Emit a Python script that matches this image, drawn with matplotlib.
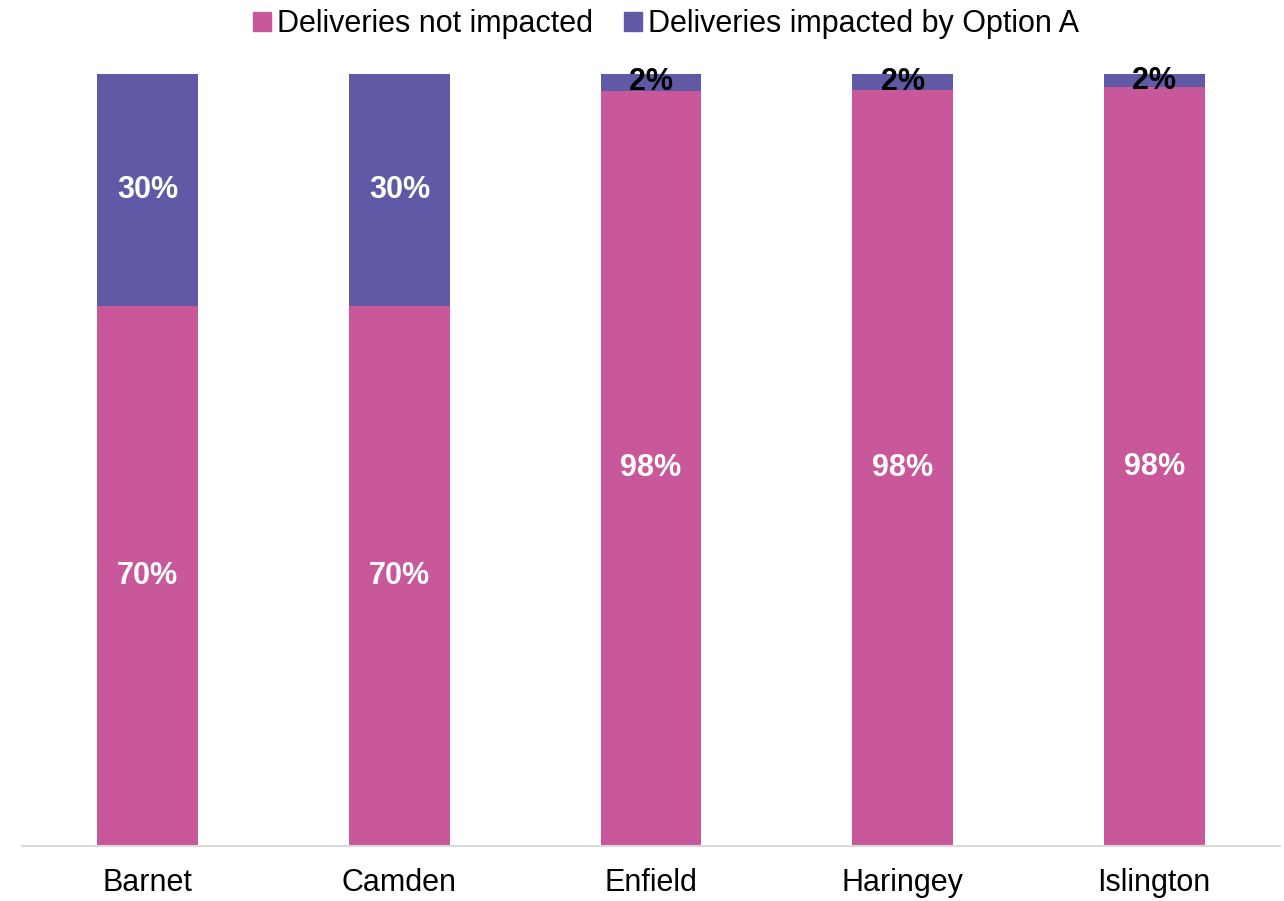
import numpy as np
import matplotlib.pyplot as plt
from matplotlib.patches import Patch

# data
boroughs = ['Barnet', 'Camden', 'Enfield', 'Haringey', 'Islington']
not_impacted = [70.0, 70.0, 97.8, 97.9, 98.3]
impacted = [30.0, 30.0, 2.2, 2.1, 1.7]
series_names = ['Deliveries not impacted', 'Deliveries impacted by Option A']

pink = '#C9589A'
purple = '#605AA6'

plt.rcParams['font.family'] = ['Liberation Sans', 'DejaVu Sans']

fig = plt.figure(figsize=(12.84, 9.01), dpi=100)
ax = fig.add_axes([22/1284, 55/901, 1258/1284, 772/901])

x = np.arange(len(boroughs))
ax.bar(x, not_impacted, width=0.4, color=pink)
ax.bar(x, impacted, width=0.4, bottom=not_impacted, color=purple)

for i in range(len(boroughs)):
    ax.text(x[i], not_impacted[i]/2, '%d%%' % round(not_impacted[i]),
            ha='center', va='center', color='white', fontsize=22, fontweight='bold')
    small = impacted[i] < 5
    ax.text(x[i], not_impacted[i] + impacted[i]/2, '%d%%' % round(impacted[i]),
            ha='center', va='center', color='black' if small else 'white',
            fontsize=22, fontweight='bold')

ax.set_xlim(-0.5, len(boroughs) - 0.5)
ax.set_ylim(0, 100)
ax.set_xticks(x)
ax.set_xticklabels(boroughs, fontsize=22)
ax.tick_params(axis='x', length=0, pad=16)
ax.set_yticks([])
for s in ['top', 'right', 'left']:
    ax.spines[s].set_visible(False)
ax.spines['bottom'].set_color('#d9d9d9')
ax.spines['bottom'].set_linewidth(1.5)

handles = [Patch(color=pink), Patch(color=purple)]
fig.legend(handles, series_names, loc='center', bbox_to_anchor=(666/1284, 1 - 24/901),
           ncol=2, frameon=False, fontsize=22, handlelength=0.6, handleheight=0.6,
           handletextpad=0.2, columnspacing=1.0)

fig.savefig('out.png', dpi=100)
